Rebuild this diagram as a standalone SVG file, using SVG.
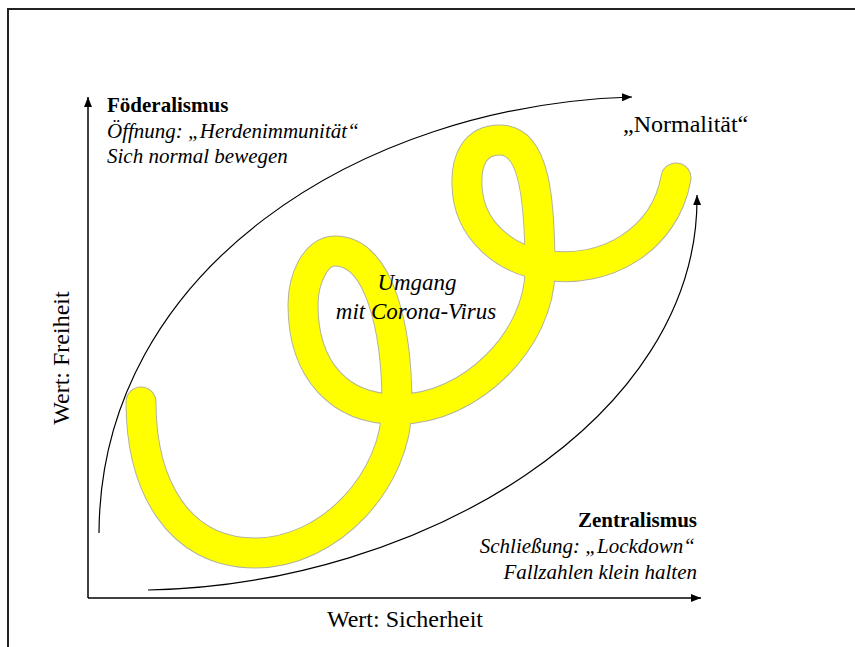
<svg xmlns="http://www.w3.org/2000/svg" width="855" height="647" viewBox="0 0 855 647">
<style>
  text { font-family: "Liberation Serif", "Times New Roman", serif; fill: #000; }
  .b { font-weight: bold; font-size: 21px; }
  .i { font-style: italic; font-size: 21px; }
  .ax { font-size: 24px; }
  .conn { fill: none; stroke: #000; stroke-width: 1.2; }
  .axis { fill: none; stroke: #000; stroke-width: 1.5; }
</style>
<defs>
  <marker id="arr" markerUnits="userSpaceOnUse" markerWidth="10" markerHeight="8" refX="10" refY="4" orient="auto">
    <path d="M0,0 L10,4 L0,8 z" fill="#000"/>
  </marker>
</defs>
<rect width="855" height="647" fill="#fff"/>
<g id="border">
  <path d="M8,647 L8,9 L855,9" fill="none" stroke="#222" stroke-width="2"/>
</g>
<g id="spiral">
  <path id="sp" d="M141,402 C141,485 178,553 255,553 C330,553 397,480 397,405 C397,330 380,251 335,251 C315,251 303,280 303,305 C303,370 340,411 400,409 C470,409 540,340 540,270 C540,200 535,140 500,140 C475,140 466,160 467,185 C468,230 505,260 545,265 C605,275 665,240 676,178" fill="none" stroke="#b4b49c" stroke-width="31" stroke-linecap="round" stroke-linejoin="round"/>
  <path d="M141,402 C141,485 178,553 255,553 C330,553 397,480 397,405 C397,330 380,251 335,251 C315,251 303,280 303,305 C303,370 340,411 400,409 C470,409 540,340 540,270 C540,200 535,140 500,140 C475,140 466,160 467,185 C468,230 505,260 545,265 C605,275 665,240 676,178" fill="none" stroke="#ffff00" stroke-width="29" stroke-linecap="round" stroke-linejoin="round"/>
</g>
<g id="connectors">
  <path class="axis" d="M88,598 L88,97" marker-end="url(#arr)"/>
  <path class="axis" d="M88,598 L701,598" marker-end="url(#arr)"/>
  <path class="conn" d="M99,533 C100,270 360,105 632,97" marker-end="url(#arr)"/>
  <path class="conn" d="M148,590 C420,585 700,420 697,195" marker-end="url(#arr)"/>
</g>
<g id="foederalismus">
  <text class="b" x="107" y="112">Föderalismus</text>
  <text class="i" x="107" y="138">Öffnung: „Herdenimmunität“</text>
  <text class="i" x="107" y="163">Sich normal bewegen</text>
</g>
<g id="zentralismus">
  <text class="b" x="697" y="527" text-anchor="end">Zentralismus</text>
  <text class="i" x="695" y="553" text-anchor="end">Schließung: „Lockdown“</text>
  <text class="i" x="697" y="579" text-anchor="end">Fallzahlen klein halten</text>
</g>
<g id="normalitaet">
  <text class="ax" x="623" y="132">„Normalität“</text>
</g>
<g id="umgang">
  <text class="i" style="font-size:23px" x="417" y="290" text-anchor="middle">Umgang</text>
  <text class="i" style="font-size:23px" x="416" y="319" text-anchor="middle">mit Corona-Virus</text>
</g>
<g id="axis-labels">
  <text class="ax" x="405" y="627" text-anchor="middle">Wert: Sicherheit</text>
  <text class="ax" x="69" y="358" text-anchor="middle" transform="rotate(-90 69 358)">Wert: Freiheit</text>
</g>
</svg>
